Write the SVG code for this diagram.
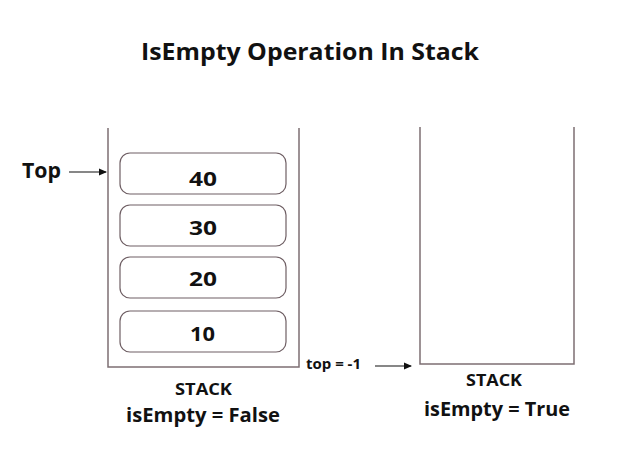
<svg xmlns="http://www.w3.org/2000/svg" width="621" height="455" viewBox="0 0 621 455">
<defs>
<marker id="ah" markerWidth="8" markerHeight="8" refX="7" refY="4" orient="auto" markerUnits="userSpaceOnUse">
<path d="M0,0.5 L8,4 L0,7.5 Z" fill="#111"/>
</marker>
<style>
text{font-family:"Open Sans","Liberation Sans",sans-serif;font-weight:bold;fill:#111;}
.c{fill:none;stroke:#7d6f73;stroke-width:1.5;}
.b{fill:#fff;stroke:#6f5f64;stroke-width:1.2;}
.v{font-size:20px;}
.a{stroke:#111;stroke-width:1.2;fill:none;marker-end:url(#ah);}
</style>
</defs>
<rect width="621" height="455" fill="#fff"/>
<text x="141" y="60" font-size="24" textLength="338" lengthAdjust="spacingAndGlyphs">IsEmpty Operation In Stack</text>
<g id="stack-left">
<path class="c" d="M108,128 V367 H299 V128"/>
<text x="175" y="395" font-size="16" textLength="57" lengthAdjust="spacingAndGlyphs">STACK</text>
<text x="126" y="422" font-size="19" textLength="154" lengthAdjust="spacingAndGlyphs">isEmpty = False</text>
</g>
<g id="item-40"><rect class="b" x="120" y="153" width="166" height="41" rx="10"/><text class="v" x="189" y="186" textLength="28" lengthAdjust="spacingAndGlyphs">40</text></g>
<g id="item-30"><rect class="b" x="120" y="205" width="166" height="41" rx="10"/><text class="v" x="189" y="235" textLength="28" lengthAdjust="spacingAndGlyphs">30</text></g>
<g id="item-20"><rect class="b" x="120" y="257" width="166" height="41" rx="10"/><text class="v" x="189" y="286" textLength="28" lengthAdjust="spacingAndGlyphs">20</text></g>
<g id="item-10"><rect class="b" x="120" y="311" width="166" height="41" rx="10"/><text class="v" x="190" y="341" textLength="25" lengthAdjust="spacingAndGlyphs">10</text></g>
<g id="top-label"><text x="22" y="178" font-size="21" textLength="39" lengthAdjust="spacingAndGlyphs">Top</text></g>
<g id="stack-right">
<path class="c" d="M420,127 V364 H574 V127"/>
<text x="466" y="386" font-size="16" textLength="56" lengthAdjust="spacingAndGlyphs">STACK</text>
<text x="424" y="416" font-size="19" textLength="146" lengthAdjust="spacingAndGlyphs">isEmpty = True</text>
</g>
<g id="top-neg"><text x="306" y="369" font-size="14" textLength="55" lengthAdjust="spacingAndGlyphs">top = -1</text></g>
<g id="connectors">
<line class="a" x1="69" y1="172" x2="106" y2="172"/>
<line class="a" x1="375" y1="366" x2="411" y2="366"/>
</g>
</svg>
